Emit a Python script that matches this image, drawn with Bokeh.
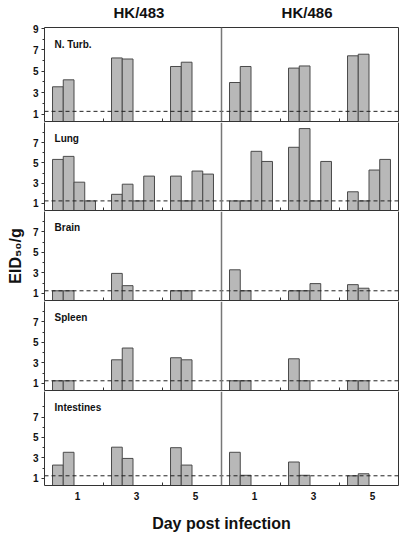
from bokeh.plotting import figure
from bokeh.models import ColumnDataSource, FixedTicker, Span, Label, LinearAxis, Range1d
from bokeh.layouts import column
from bokeh.embed import file_html
from bokeh.resources import INLINE

# ---------------- data ----------------
viruses = ["HK/483", "HK/486"]
days = ["1", "3", "5"]
organs = ["N. Turb.", "Lung", "Brain", "Spleen", "Intestines"]
detection_limit = 1.25

# log10 EID50/g per animal, grouped by day (1, 3, 5)
nt_483 = [[3.55, 4.2], [6.25, 6.15], [5.45, 5.85]]
nt_486 = [[3.95, 5.45], [5.3, 5.5], [6.45, 6.6]]
lung_483 = [[5.35, 5.65, 3.1, 1.25], [1.9, 2.9, 1.25, 3.7], [3.7, 1.25, 4.2, 3.9]]
lung_486 = [[1.25, 1.25, 6.15, 5.15], [6.55, 8.4, 1.25, 5.15], [2.15, 1.25, 4.3, 5.35]]
brain_483 = [[1.25, 1.25], [2.95, 1.75], [1.25, 1.25]]
brain_486 = [[3.3, 1.25], [1.25, 1.25, 1.95], [1.85, 1.5]]
spleen_483 = [[1.25, 1.25], [3.3, 4.45], [3.5, 3.3]]
spleen_486 = [[1.25, 1.25], [3.4, 1.25], [1.25, 1.25]]
int_483 = [[2.3, 3.55], [4.05, 2.95], [4.0, 2.3]]
int_486 = [[3.55, 1.3], [2.6, 1.3], [1.25, 1.45]]

organ_data = {
    "N. Turb.": (nt_483, nt_486),
    "Lung": (lung_483, lung_486),
    "Brain": (brain_483, brain_486),
    "Spleen": (spleen_483, spleen_486),
    "Intestines": (int_483, int_486),
}

# ---------------- layout / style ----------------
FONT = "Liberation Sans"
EDGE = "#333333"
FW = 354
heights = [94, 88, 89, 89, 94]
y_ends = [9.1, 9.0, 9.0, 9.0, 9.5]
y_start = 0.3
bw = 0.182
n_groups = len(viruses) * len(days)
day_ticks = [g + 0.56 for g in range(n_groups)]
day_overrides = {t: days[i % len(days)] for i, t in enumerate(day_ticks)}
bound_ticks = [g for g in range(1, n_groups) if g % len(days) != 0]
title_ticks = [1.6, 4.45]
title_overrides = {t: v for t, v in zip(title_ticks, viruses)}

figs = []
for i, organ in enumerate(organs):
    xs, tops = [], []
    for vi, series in enumerate(organ_data[organ]):
        for di, vals in enumerate(series):
            g = vi * len(days) + di
            for j, v in enumerate(vals):
                xs.append(g + 0.5 + (j - 1.5) * bw)
                tops.append(v)
    src = ColumnDataSource(dict(x=xs, top=tops))

    last = i == len(organs) - 1
    p = figure(frame_width=FW, frame_height=heights[i],
               x_range=Range1d(0, n_groups), y_range=Range1d(y_start, y_ends[i]),
               output_backend="svg", toolbar_location=None,
               min_border_left=44, min_border_right=3,
               min_border_top=0, min_border_bottom=1)
    p.xgrid.visible = False
    p.ygrid.visible = False
    p.outline_line_color = None
    p.background_fill_color = "white"

    p.vbar(x="x", top="top", bottom=0, width=bw, source=src,
           fill_color="#b8b8b8", line_color="#4a4a4a", line_width=1)

    p.add_layout(Span(location=detection_limit, dimension="width",
                      line_color="#222222", line_width=1, line_dash="4 3"))
    p.add_layout(Span(location=len(days), dimension="height",
                      line_color="#777777", line_width=1.5))

    p.add_layout(Label(x=0.17, y=y_ends[i] - 1.6, text=organ, text_font=FONT,
                       text_font_style="bold", text_font_size="10px",
                       text_baseline="middle", text_color="#111111"))

    ya = p.yaxis[0]
    ya.ticker = FixedTicker(ticks=[1, 3, 5, 7, 9] if i == 0 else [1, 3, 5, 7],
                            minor_ticks=[2, 4, 6, 8])
    ya.major_tick_out = 3
    ya.major_tick_in = 0
    ya.minor_tick_out = 2
    ya.minor_tick_in = 0
    ya.major_label_standoff = 3
    ya.major_label_text_font = FONT
    ya.major_label_text_font_style = "bold"
    ya.major_label_text_font_size = "10px"
    ya.major_label_text_color = "#111111"
    ya.axis_line_color = EDGE
    ya.major_tick_line_color = EDGE
    ya.minor_tick_line_color = EDGE
    if organ == "Brain":
        ya.axis_label = "EID\u2085\u2080/g"
        ya.axis_label_text_font = FONT
        ya.axis_label_text_font_style = "bold"
        ya.axis_label_text_font_size = "16px"
        ya.axis_label_standoff = 6
        ya.axis_label_text_color = "#111111"

    # right edge of the panel
    ra = LinearAxis(ticker=FixedTicker(ticks=[], minor_ticks=[]),
                    major_tick_out=0, major_tick_in=0, minor_tick_out=0, minor_tick_in=0,
                    major_label_standoff=0, axis_line_color=EDGE)
    p.add_layout(ra, "right")

    xa = p.xaxis[0]
    xa.major_tick_in = 0
    xa.major_tick_out = 0
    xa.minor_tick_in = 3
    xa.minor_tick_out = 0
    xa.minor_tick_line_color = EDGE
    xa.axis_line_color = EDGE
    if last:
        xa.ticker = FixedTicker(ticks=day_ticks, minor_ticks=bound_ticks)
        xa.major_label_overrides = day_overrides
        xa.major_label_text_font = FONT
        xa.major_label_text_font_style = "bold"
        xa.major_label_text_font_size = "10px"
        xa.major_label_text_color = "#111111"
        xa.major_label_standoff = 6
        xa.axis_label = "Day post infection"
        xa.axis_label_text_font = FONT
        xa.axis_label_text_font_style = "bold"
        xa.axis_label_text_font_size = "16px"
        xa.axis_label_text_color = "#111111"
        xa.axis_label_standoff = 12
    else:
        xa.ticker = FixedTicker(ticks=[], minor_ticks=bound_ticks)
        xa.major_label_standoff = 0

    if i == 0:
        ta = LinearAxis(ticker=FixedTicker(ticks=title_ticks, minor_ticks=[]),
                        major_label_overrides=title_overrides,
                        major_label_text_font=FONT,
                        major_label_text_font_style="bold",
                        major_label_text_font_size="15px",
                        major_label_text_color="#111111",
                        major_label_standoff=7,
                        major_tick_in=0, major_tick_out=0,
                        minor_tick_in=0, minor_tick_out=0,
                        axis_line_color=EDGE)
        p.add_layout(ta, "above")
    figs.append(p)

layout = column(*figs, spacing=0)
open("out.html", "w").write(file_html(layout, INLINE))
